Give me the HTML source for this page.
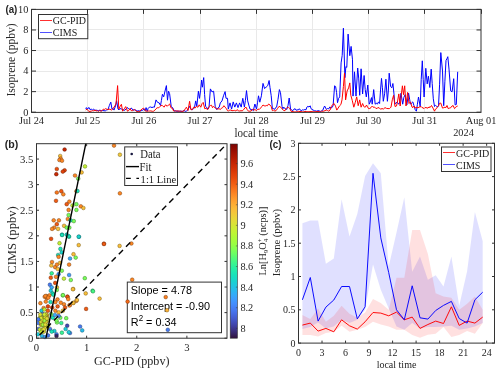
<!DOCTYPE html>
<html><head><meta charset="utf-8"><style>
html,body{margin:0;padding:0;background:#fff;width:500px;height:373px;overflow:hidden}
svg{display:block;will-change:transform}
</style></head><body>
<svg width="500" height="373" viewBox="0 0 500 373">
<rect width="500" height="373" fill="#fff"/>
<line x1="87.50" y1="9.4" x2="87.50" y2="112.2" stroke="#e9e9e9" stroke-width="1"/>
<line x1="143.50" y1="9.4" x2="143.50" y2="112.2" stroke="#e9e9e9" stroke-width="1"/>
<line x1="200.50" y1="9.4" x2="200.50" y2="112.2" stroke="#e9e9e9" stroke-width="1"/>
<line x1="256.50" y1="9.4" x2="256.50" y2="112.2" stroke="#e9e9e9" stroke-width="1"/>
<line x1="312.50" y1="9.4" x2="312.50" y2="112.2" stroke="#e9e9e9" stroke-width="1"/>
<line x1="368.50" y1="9.4" x2="368.50" y2="112.2" stroke="#e9e9e9" stroke-width="1"/>
<line x1="424.50" y1="9.4" x2="424.50" y2="112.2" stroke="#e9e9e9" stroke-width="1"/>
<line x1="31.5" y1="91.50" x2="481.0" y2="91.50" stroke="#e9e9e9" stroke-width="1"/>
<line x1="31.5" y1="71.50" x2="481.0" y2="71.50" stroke="#e9e9e9" stroke-width="1"/>
<line x1="31.5" y1="50.50" x2="481.0" y2="50.50" stroke="#e9e9e9" stroke-width="1"/>
<line x1="31.5" y1="29.50" x2="481.0" y2="29.50" stroke="#e9e9e9" stroke-width="1"/>
<polyline points="85.8,109.1 86.4,107.6 87.6,109.1 88.8,107.4 90.0,109.6 91.2,109.1 92.4,109.9 93.6,109.0 94.8,110.4 96.0,110.1 97.3,110.4 98.7,110.6 100.0,110.1 101.3,110.8 102.7,110.5 104.0,110.7 105.3,110.9 106.7,109.9 108.0,109.6 109.4,105.4 110.8,102.1 112.0,109.1 113.0,108.5 114.0,110.1 115.5,106.0 116.6,100.7 118.0,109.1 119.0,109.9 120.0,108.6 121.5,109.0 123.0,109.6 124.5,110.4 126.0,109.1 127.0,107.6 128.0,108.1 129.0,109.1 130.0,109.6 131.0,108.1 132.0,108.5 133.0,110.1 134.5,109.8 136.0,110.1 137.0,111.3 138.0,110.7 139.0,110.9 140.0,111.2 141.2,110.6 142.4,110.5 144.0,108.8 145.0,110.7 146.1,107.6 147.2,111.2 148.2,108.3 149.3,107.2 150.7,107.0 152.0,107.6 153.2,107.0 154.4,107.2 156.0,99.9 157.6,102.4 159.2,102.9 160.5,105.5 161.4,100.6 162.4,94.3 163.7,96.8 164.8,91.9 166.4,85.6 167.5,100.2 168.5,91.2 169.6,93.6 171.2,106.3 172.8,108.0 174.4,111.2 175.6,110.7 176.8,111.5 178.0,111.0 179.5,111.3 181.0,111.2 182.5,111.4 184.0,110.5 185.2,111.3 186.5,111.2 188.0,109.6 189.6,106.3 191.2,109.6 192.3,109.7 193.3,108.8 194.4,108.0 195.7,100.9 196.8,106.3 198.4,91.2 199.5,98.4 200.6,90.2 201.6,80.0 202.4,87.2 203.7,77.6 204.6,94.5 205.6,106.3 207.2,108.0 208.1,109.1 209.1,106.3 210.4,88.9 212.0,91.9 213.6,91.2 215.2,106.3 216.8,109.6 218.0,107.9 219.2,107.2 220.3,102.9 222.0,100.9 223.5,95.8 225.1,91.6 226.0,98.3 227.5,98.3 228.3,109.1 230.0,102.9 231.6,109.1 233.2,101.9 234.8,107.1 236.4,102.9 238.0,107.6 239.6,102.9 241.2,107.1 242.8,98.3 244.4,107.1 245.4,100.4 246.5,90.6 247.7,100.9 248.8,105.1 250.0,109.1 251.1,109.5 252.2,109.6 253.3,110.7 254.9,104.0 256.5,109.1 257.5,102.8 258.5,95.8 259.8,102.2 261.4,95.8 263.0,83.4 264.6,88.6 266.2,87.0 267.8,85.5 269.1,80.5 270.0,87.5 271.2,95.7 272.4,108.8 273.6,108.5 274.8,109.4 275.7,107.5 276.6,107.1 278.0,99.3 279.4,89.6 280.5,92.7 282.0,106.4 282.9,108.8 283.8,107.1 285.0,108.8 285.9,109.0 286.8,109.4 288.0,105.5 289.2,98.0 290.6,109.4 291.7,109.8 292.8,110.7 294.0,109.1 295.2,108.8 296.1,110.2 297.0,110.0 298.2,109.7 299.4,108.8 300.3,110.1 301.2,110.7 302.4,109.9 303.6,110.0 304.8,109.5 306.0,109.8 306.9,107.1 307.8,106.4 309.0,107.0 310.2,105.8 311.1,108.8 312.0,109.4 313.2,110.1 314.4,110.7 315.6,110.8 316.8,111.2 318.0,110.7 319.2,110.9 320.4,111.4 321.6,110.9 322.8,110.2 323.7,107.9 324.6,106.0 326.4,109.4 327.6,108.5 328.8,108.8 329.9,106.9 330.9,107.9 332.0,107.6 333.1,105.7 334.6,85.8 335.6,86.5 336.6,92.6 337.5,102.7 338.6,98.4 339.7,96.9 341.1,62.9 342.2,55.4 343.4,28.2 344.9,77.7 345.9,66.5 346.8,67.4 348.1,34.1 349.8,55.7 351.1,46.4 352.5,59.8 353.0,96.1 354.5,71.8 356.0,96.1 357.7,68.0 358.7,78.1 359.7,95.3 361.1,68.8 362.6,94.0 364.1,75.5 365.2,89.5 366.3,96.9 367.8,85.0 369.2,104.2 370.0,102.7 371.5,97.6 372.2,104.2 373.7,89.6 375.2,104.2 376.3,103.1 377.4,104.2 378.5,101.9 379.6,103.5 380.6,89.1 381.5,78.4 382.4,87.8 383.3,101.3 384.6,93.8 385.9,79.2 387.4,101.3 388.3,91.0 389.2,73.2 390.6,86.5 391.8,87.8 392.9,83.5 393.9,93.1 394.8,104.2 396.1,102.5 397.3,102.7 399.0,104.2 400.0,100.3 401.0,93.2 402.7,104.2 403.9,97.3 405.1,94.7 406.8,105.0 407.7,99.0 408.6,93.2 409.6,99.2 410.5,104.2 411.6,103.0 412.8,101.9 414.0,105.7 415.2,109.7 416.4,111.2 417.4,104.3 418.5,97.0 420.2,106.5 421.2,79.7 422.3,60.8 423.2,79.3 424.1,97.0 425.8,68.3 427.2,83.9 428.4,76.2 429.8,87.5 431.2,69.1 432.2,83.6 433.3,98.8 434.5,106.5 435.5,105.4 436.5,106.0 437.5,107.0 438.5,106.0 439.6,84.2 440.8,52.6 442.5,71.1 443.7,105.7 444.9,81.2 446.0,60.5 446.9,58.8 447.8,56.7 449.0,69.1 450.7,90.9 452.1,91.8 453.7,78.7 455.1,104.9 456.3,104.5 457.7,71.8" fill="none" stroke="#0000ff" stroke-width="1.0" stroke-linejoin="round"/>
<polyline points="85.8,110.1 87.0,109.1 88.8,111.4 90.0,111.4 91.3,111.1 92.5,110.7 93.8,110.8 95.0,110.1 96.2,110.9 97.3,110.7 98.5,111.4 99.7,110.4 100.8,111.2 102.0,110.7 103.2,109.2 104.5,109.4 105.7,108.6 106.8,109.2 108.0,109.6 109.0,109.2 110.0,109.1 111.5,110.2 113.0,108.6 114.8,106.0 116.0,104.0 117.6,85.6 118.8,109.1 120.1,106.4 121.4,104.3 122.6,111.2 123.6,109.9 124.7,108.2 125.7,106.6 127.5,111.2 128.8,110.4 130.0,108.6 131.2,110.6 132.3,110.7 133.5,110.0 134.7,109.6 135.8,110.7 137.0,111.7 138.5,111.5 140.0,111.2 141.1,109.6 142.1,109.3 143.2,108.0 144.4,109.0 145.6,111.2 146.9,111.1 148.3,111.0 149.6,111.0 150.9,110.9 152.3,111.3 153.6,111.2 154.8,110.3 156.0,108.8 157.2,107.7 158.4,108.0 159.7,106.7 161.1,105.5 162.4,105.5 164.0,107.2 165.6,104.8 167.2,106.3 168.4,105.0 169.6,104.0 171.2,108.0 172.4,108.3 173.6,111.0 174.7,110.9 175.8,111.2 176.9,110.7 178.0,111.2 179.2,111.1 180.5,111.1 181.8,111.4 183.0,111.2 184.1,110.8 185.3,108.7 186.4,107.2 188.0,110.5 189.6,101.3 190.9,109.6 192.2,109.7 193.6,107.2 195.2,108.0 196.5,106.3 197.9,107.3 199.2,104.8 200.8,107.2 202.0,103.7 203.2,102.4 204.8,108.8 206.0,108.1 207.2,109.6 208.3,108.9 209.3,106.3 210.4,105.5 211.5,105.2 212.5,107.7 213.6,106.3 215.2,108.0 216.5,108.8 217.9,108.9 219.2,108.8 220.4,109.5 221.5,108.1 222.7,107.6 223.9,105.7 225.1,107.1 226.3,108.6 227.5,110.7 228.6,110.9 229.8,110.1 230.9,110.1 232.0,110.7 233.2,110.6 234.5,110.4 235.8,111.0 237.0,109.6 238.3,110.7 239.7,111.0 241.0,110.7 242.2,110.9 243.5,109.8 244.8,108.0 246.0,107.1 247.2,109.6 248.5,111.2 249.8,111.2 251.1,111.0 252.4,109.3 253.7,110.0 255.0,109.6 256.5,110.6 258.0,109.1 259.3,109.4 260.6,108.1 261.8,106.5 263.0,105.0 264.1,105.7 265.1,106.1 266.2,105.5 267.4,105.8 268.6,104.0 270.0,105.0 271.2,106.6 272.4,110.7 273.6,110.2 274.8,111.0 276.0,110.7 277.5,108.6 279.0,106.4 280.5,106.9 282.0,108.8 283.5,110.4 285.0,110.7 286.2,108.5 287.4,107.3 288.6,107.6 289.8,108.5 291.0,111.2 292.0,111.5 293.0,111.7 294.2,111.9 295.3,111.9 296.5,111.6 297.7,111.5 298.8,111.3 300.0,111.6 301.2,111.5 302.5,111.8 303.8,111.8 305.0,111.5 306.2,111.6 307.5,111.5 308.8,111.7 310.0,111.7 311.1,111.5 312.3,111.6 313.4,111.6 314.6,111.6 315.7,111.5 316.9,111.5 318.0,111.6 319.2,111.6 320.4,111.8 321.6,111.1 322.8,111.4 323.9,111.0 325.0,110.7 326.2,110.0 327.5,110.5 328.8,111.2 330.0,110.1 331.4,106.5 332.7,104.5 334.1,103.5 335.5,106.1 336.8,110.1 338.2,108.0 339.7,105.7 340.9,104.5 342.0,99.9 343.4,86.5 344.5,73.2 345.6,99.9 347.1,91.0 348.6,87.9 349.8,82.9 350.8,95.3 352.3,100.6 353.8,107.2 355.2,102.7 356.7,96.9 358.2,105.7 359.7,99.9 361.1,107.2 362.6,103.5 363.6,106.0 364.5,107.2 365.5,107.0 366.5,105.0 367.5,106.8 368.5,108.6 369.8,108.5 371.0,107.6 372.0,106.2 373.0,107.2 374.5,107.0 376.0,108.6 377.5,108.0 379.0,107.6 380.5,109.2 382.0,108.6 383.5,109.0 385.0,107.6 386.5,108.4 388.0,108.6 389.5,108.6 391.0,107.1 392.3,99.8 393.6,95.3 395.0,106.5 396.5,106.0 397.6,101.0 398.8,93.9 400.2,106.0 401.3,94.8 402.4,85.8 403.5,94.7 404.7,85.8 406.0,106.0 407.6,92.4 409.0,103.5 410.5,101.9 412.0,107.1 413.0,107.5 414.0,106.0 415.0,108.0 416.0,107.6 417.0,107.2 418.0,108.1 419.0,106.8 420.0,107.1 421.0,106.4 422.0,107.6 423.0,107.8 424.0,108.6 425.0,107.6 426.0,107.6 427.0,107.9 428.0,108.1 429.0,106.8 430.0,107.6 431.5,105.5 433.0,108.1 434.5,111.2 435.5,109.1 436.5,108.6 437.5,106.8 438.5,106.0 439.6,103.2 440.8,103.1 442.5,108.1 443.8,107.7 445.0,107.1 446.0,107.6 447.0,105.5 448.2,108.6 449.5,108.1 450.8,107.7 452.0,106.0 453.2,105.6 454.5,108.6 455.4,107.8 456.3,106.5 457.7,106.0" fill="none" stroke="#ff0000" stroke-width="1.0" stroke-linejoin="round"/>
<rect x="31.5" y="9.4" width="449.5" height="103.0" fill="none" stroke="#333333" stroke-width="1"/>
<line x1="31.50" y1="9.4" x2="31.50" y2="13.9" stroke="#333333" stroke-width="1"/>
<line x1="87.50" y1="9.4" x2="87.50" y2="13.9" stroke="#333333" stroke-width="1"/>
<line x1="143.50" y1="9.4" x2="143.50" y2="13.9" stroke="#333333" stroke-width="1"/>
<line x1="200.50" y1="9.4" x2="200.50" y2="13.9" stroke="#333333" stroke-width="1"/>
<line x1="256.50" y1="9.4" x2="256.50" y2="13.9" stroke="#333333" stroke-width="1"/>
<line x1="312.50" y1="9.4" x2="312.50" y2="13.9" stroke="#333333" stroke-width="1"/>
<line x1="368.50" y1="9.4" x2="368.50" y2="13.9" stroke="#333333" stroke-width="1"/>
<line x1="424.50" y1="9.4" x2="424.50" y2="13.9" stroke="#333333" stroke-width="1"/>
<line x1="481.50" y1="9.4" x2="481.50" y2="13.9" stroke="#333333" stroke-width="1"/>
<line x1="31.5" y1="112.20" x2="36.0" y2="112.20" stroke="#333333" stroke-width="1"/>
<line x1="481.0" y1="112.20" x2="476.5" y2="112.20" stroke="#333333" stroke-width="1"/>
<text transform="translate(28.30,115.60) scale(1.0,1.0)" font-family="Liberation Serif" font-size="10.3" text-anchor="end" fill="#262626">0</text>
<line x1="31.5" y1="91.64" x2="36.0" y2="91.64" stroke="#333333" stroke-width="1"/>
<line x1="481.0" y1="91.64" x2="476.5" y2="91.64" stroke="#333333" stroke-width="1"/>
<text transform="translate(28.30,95.04) scale(1.0,1.0)" font-family="Liberation Serif" font-size="10.3" text-anchor="end" fill="#262626">2</text>
<line x1="31.5" y1="71.08" x2="36.0" y2="71.08" stroke="#333333" stroke-width="1"/>
<line x1="481.0" y1="71.08" x2="476.5" y2="71.08" stroke="#333333" stroke-width="1"/>
<text transform="translate(28.30,74.48) scale(1.0,1.0)" font-family="Liberation Serif" font-size="10.3" text-anchor="end" fill="#262626">4</text>
<line x1="31.5" y1="50.52" x2="36.0" y2="50.52" stroke="#333333" stroke-width="1"/>
<line x1="481.0" y1="50.52" x2="476.5" y2="50.52" stroke="#333333" stroke-width="1"/>
<text transform="translate(28.30,53.92) scale(1.0,1.0)" font-family="Liberation Serif" font-size="10.3" text-anchor="end" fill="#262626">6</text>
<line x1="31.5" y1="29.96" x2="36.0" y2="29.96" stroke="#333333" stroke-width="1"/>
<line x1="481.0" y1="29.96" x2="476.5" y2="29.96" stroke="#333333" stroke-width="1"/>
<text transform="translate(28.30,33.36) scale(1.0,1.0)" font-family="Liberation Serif" font-size="10.3" text-anchor="end" fill="#262626">8</text>
<line x1="31.5" y1="9.40" x2="36.0" y2="9.40" stroke="#333333" stroke-width="1"/>
<line x1="481.0" y1="9.40" x2="476.5" y2="9.40" stroke="#333333" stroke-width="1"/>
<text transform="translate(28.30,12.80) scale(1.0,1.0)" font-family="Liberation Serif" font-size="10.3" text-anchor="end" fill="#262626">10</text>
<text transform="translate(31.50,124.40) scale(1.0,1.0)" font-family="Liberation Serif" font-size="10.3" text-anchor="middle" fill="#262626">Jul 24</text>
<text transform="translate(87.69,124.40) scale(1.0,1.0)" font-family="Liberation Serif" font-size="10.3" text-anchor="middle" fill="#262626">Jul 25</text>
<text transform="translate(143.88,124.40) scale(1.0,1.0)" font-family="Liberation Serif" font-size="10.3" text-anchor="middle" fill="#262626">Jul 26</text>
<text transform="translate(200.06,124.40) scale(1.0,1.0)" font-family="Liberation Serif" font-size="10.3" text-anchor="middle" fill="#262626">Jul 27</text>
<text transform="translate(256.25,124.40) scale(1.0,1.0)" font-family="Liberation Serif" font-size="10.3" text-anchor="middle" fill="#262626">Jul 28</text>
<text transform="translate(312.44,124.40) scale(1.0,1.0)" font-family="Liberation Serif" font-size="10.3" text-anchor="middle" fill="#262626">Jul 29</text>
<text transform="translate(368.62,124.40) scale(1.0,1.0)" font-family="Liberation Serif" font-size="10.3" text-anchor="middle" fill="#262626">Jul 30</text>
<text transform="translate(424.81,124.40) scale(1.0,1.0)" font-family="Liberation Serif" font-size="10.3" text-anchor="middle" fill="#262626">Jul 31</text>
<text transform="translate(481.00,124.40) scale(1.0,1.0)" font-family="Liberation Serif" font-size="10.3" text-anchor="middle" fill="#262626">Aug 01</text>
<text transform="translate(473.80,136.20) scale(1.0,1.0)" font-family="Liberation Serif" font-size="10.3" text-anchor="end" fill="#262626">2024</text>
<text transform="translate(256.30,136.80) scale(1.0,1.08)" font-family="Liberation Serif" font-size="11" text-anchor="middle" fill="#262626">local time</text>
<text transform="translate(15.20,59.90) scale(1,0.96) rotate(-90)" font-family="Liberation Serif" font-size="12" text-anchor="middle" fill="#262626">Isoprene (ppbv)</text>
<text transform="translate(5.40,12.80) scale(0.92,1.0)" font-family="Liberation Sans" font-size="10.6" text-anchor="start" fill="#262626" font-weight="bold">(a)</text>
<rect x="38.5" y="14.5" width="49.3" height="24.2" fill="#fff" stroke="#333333" stroke-width="1"/>
<line x1="40" y1="20.5" x2="52" y2="20.5" stroke="#ff3030" stroke-width="1"/>
<line x1="40" y1="32.5" x2="52" y2="32.5" stroke="#5050ff" stroke-width="1"/>
<text transform="translate(52.80,23.90) scale(1.0,1.08)" font-family="Liberation Serif" font-size="10" text-anchor="start" fill="#1a1a1a">GC-PID</text>
<text transform="translate(52.80,35.80) scale(1.0,1.08)" font-family="Liberation Serif" font-size="10" text-anchor="start" fill="#1a1a1a">CIMS</text>
<circle cx="75.0" cy="175.5" r="1.85" fill="#fc8725" stroke="#713c10" stroke-width="0.45"/>
<circle cx="78.2" cy="178.7" r="1.85" fill="#79fe59" stroke="#367228" stroke-width="0.45"/>
<circle cx="69.1" cy="264.6" r="1.85" fill="#fc8725" stroke="#713c10" stroke-width="0.45"/>
<circle cx="54.2" cy="227.6" r="1.85" fill="#fc8725" stroke="#713c10" stroke-width="0.45"/>
<circle cx="51.7" cy="273.3" r="1.85" fill="#35f394" stroke="#176d42" stroke-width="0.45"/>
<circle cx="75.7" cy="257.6" r="1.85" fill="#79fe59" stroke="#367228" stroke-width="0.45"/>
<circle cx="45.5" cy="325.2" r="1.85" fill="#cbed34" stroke="#5b6a17" stroke-width="0.45"/>
<circle cx="56.8" cy="192.5" r="1.85" fill="#f9781e" stroke="#70360d" stroke-width="0.45"/>
<circle cx="61.8" cy="252.4" r="1.85" fill="#19d5cd" stroke="#0b5f5c" stroke-width="0.45"/>
<circle cx="58.7" cy="312.3" r="1.85" fill="#f8be39" stroke="#6f5519" stroke-width="0.45"/>
<circle cx="56.9" cy="287.3" r="1.85" fill="#f6c33a" stroke="#6e571a" stroke-width="0.45"/>
<circle cx="41.2" cy="325.3" r="1.85" fill="#cbed34" stroke="#5b6a17" stroke-width="0.45"/>
<circle cx="46.4" cy="316.1" r="1.85" fill="#e1dd37" stroke="#656318" stroke-width="0.45"/>
<circle cx="46.7" cy="298.0" r="1.85" fill="#fc8725" stroke="#713c10" stroke-width="0.45"/>
<circle cx="40.7" cy="323.2" r="1.85" fill="#ebd339" stroke="#695e19" stroke-width="0.45"/>
<circle cx="79.0" cy="236.8" r="1.85" fill="#1ecbda" stroke="#0d5b62" stroke-width="0.45"/>
<circle cx="46.9" cy="315.0" r="1.85" fill="#fc8725" stroke="#713c10" stroke-width="0.45"/>
<circle cx="52.0" cy="262.0" r="1.85" fill="#fc8725" stroke="#713c10" stroke-width="0.45"/>
<circle cx="76.4" cy="300.8" r="1.85" fill="#fc8725" stroke="#713c10" stroke-width="0.45"/>
<circle cx="50.0" cy="329.0" r="1.85" fill="#477bf2" stroke="#1f376c" stroke-width="0.45"/>
<circle cx="47.0" cy="327.0" r="1.85" fill="#b1f936" stroke="#4f7018" stroke-width="0.45"/>
<circle cx="60.3" cy="317.7" r="1.85" fill="#79fe59" stroke="#367228" stroke-width="0.45"/>
<circle cx="57.5" cy="299.4" r="1.85" fill="#fc8725" stroke="#713c10" stroke-width="0.45"/>
<circle cx="43.3" cy="323.9" r="1.85" fill="#d7e535" stroke="#606717" stroke-width="0.45"/>
<circle cx="70.8" cy="280.0" r="1.85" fill="#79fe59" stroke="#367228" stroke-width="0.45"/>
<circle cx="43.7" cy="324.1" r="1.85" fill="#e1dd37" stroke="#656318" stroke-width="0.45"/>
<circle cx="52.8" cy="317.7" r="1.85" fill="#19e3b9" stroke="#0b6653" stroke-width="0.45"/>
<circle cx="38.3" cy="323.0" r="1.85" fill="#477bf2" stroke="#1f376c" stroke-width="0.45"/>
<circle cx="46.5" cy="296.0" r="1.85" fill="#fc8725" stroke="#713c10" stroke-width="0.45"/>
<circle cx="64.6" cy="149.5" r="1.85" fill="#c52603" stroke="#581101" stroke-width="0.45"/>
<circle cx="64.6" cy="170.3" r="1.85" fill="#e2430a" stroke="#651e04" stroke-width="0.45"/>
<circle cx="41.5" cy="331.1" r="1.85" fill="#e1dd37" stroke="#656318" stroke-width="0.45"/>
<circle cx="61.9" cy="332.7" r="1.85" fill="#35f394" stroke="#176d42" stroke-width="0.45"/>
<circle cx="42.4" cy="315.6" r="1.85" fill="#f2c93a" stroke="#6c5a1a" stroke-width="0.45"/>
<circle cx="50.8" cy="277.7" r="1.85" fill="#f05b12" stroke="#6c2808" stroke-width="0.45"/>
<circle cx="80.1" cy="326.5" r="1.85" fill="#477bf2" stroke="#1f376c" stroke-width="0.45"/>
<circle cx="69.3" cy="201.6" r="1.85" fill="#fc8725" stroke="#713c10" stroke-width="0.45"/>
<circle cx="56.8" cy="224.2" r="1.85" fill="#f05b12" stroke="#6c2808" stroke-width="0.45"/>
<circle cx="43.5" cy="324.2" r="1.85" fill="#e1dd37" stroke="#656318" stroke-width="0.45"/>
<circle cx="167.8" cy="329.8" r="1.85" fill="#477bf2" stroke="#1f376c" stroke-width="0.45"/>
<circle cx="64.0" cy="304.3" r="1.85" fill="#fc8725" stroke="#713c10" stroke-width="0.45"/>
<circle cx="103.9" cy="243.7" r="1.85" fill="#f05b12" stroke="#6c2808" stroke-width="0.45"/>
<circle cx="45.1" cy="321.6" r="1.85" fill="#d7e535" stroke="#606717" stroke-width="0.45"/>
<circle cx="67.5" cy="296.7" r="1.85" fill="#f05b12" stroke="#6c2808" stroke-width="0.45"/>
<circle cx="59.5" cy="243.2" r="1.85" fill="#c3f134" stroke="#576c17" stroke-width="0.45"/>
<circle cx="82.2" cy="330.4" r="1.85" fill="#28bceb" stroke="#125469" stroke-width="0.45"/>
<circle cx="67.2" cy="325.7" r="1.85" fill="#424bb5" stroke="#1d2151" stroke-width="0.45"/>
<circle cx="48.0" cy="335.4" r="1.85" fill="#477bf2" stroke="#1f376c" stroke-width="0.45"/>
<circle cx="50.8" cy="290.7" r="1.85" fill="#1ecbda" stroke="#0d5b62" stroke-width="0.45"/>
<circle cx="46.7" cy="317.2" r="1.85" fill="#cbed34" stroke="#5b6a17" stroke-width="0.45"/>
<circle cx="67.8" cy="219.0" r="1.85" fill="#fc8725" stroke="#713c10" stroke-width="0.45"/>
<circle cx="70.0" cy="305.0" r="1.85" fill="#fc8725" stroke="#713c10" stroke-width="0.45"/>
<circle cx="38.3" cy="329.0" r="1.85" fill="#4669e0" stroke="#1f2f64" stroke-width="0.45"/>
<circle cx="72.5" cy="205.5" r="1.85" fill="#c3f134" stroke="#576c17" stroke-width="0.45"/>
<circle cx="43.6" cy="329.2" r="1.85" fill="#cbed34" stroke="#5b6a17" stroke-width="0.45"/>
<circle cx="56.5" cy="334.3" r="1.85" fill="#477bf2" stroke="#1f376c" stroke-width="0.45"/>
<circle cx="114.0" cy="145.6" r="1.85" fill="#fc8725" stroke="#713c10" stroke-width="0.45"/>
<circle cx="51.2" cy="314.0" r="1.85" fill="#79fe59" stroke="#367228" stroke-width="0.45"/>
<circle cx="56.5" cy="336.0" r="1.85" fill="#36215f" stroke="#180e2a" stroke-width="0.45"/>
<circle cx="43.6" cy="308.0" r="1.85" fill="#fc8725" stroke="#713c10" stroke-width="0.45"/>
<circle cx="44.7" cy="296.8" r="1.85" fill="#fc8725" stroke="#713c10" stroke-width="0.45"/>
<circle cx="49.9" cy="284.7" r="1.85" fill="#477bf2" stroke="#1f376c" stroke-width="0.45"/>
<circle cx="42.0" cy="336.0" r="1.85" fill="#28bceb" stroke="#125469" stroke-width="0.45"/>
<circle cx="76.9" cy="300.0" r="1.85" fill="#f8be39" stroke="#6f5519" stroke-width="0.45"/>
<circle cx="49.4" cy="295.4" r="1.85" fill="#fc8725" stroke="#713c10" stroke-width="0.45"/>
<circle cx="45.4" cy="296.0" r="1.85" fill="#fc8725" stroke="#713c10" stroke-width="0.45"/>
<circle cx="65.6" cy="329.0" r="1.85" fill="#1ecbda" stroke="#0d5b62" stroke-width="0.45"/>
<circle cx="42.5" cy="314.3" r="1.85" fill="#e1dd37" stroke="#656318" stroke-width="0.45"/>
<circle cx="55.2" cy="267.2" r="1.85" fill="#fc8725" stroke="#713c10" stroke-width="0.45"/>
<circle cx="167.0" cy="310.2" r="1.85" fill="#f8be39" stroke="#6f5519" stroke-width="0.45"/>
<circle cx="80.8" cy="206.3" r="1.85" fill="#fc8725" stroke="#713c10" stroke-width="0.45"/>
<circle cx="64.1" cy="225.8" r="1.85" fill="#f8be39" stroke="#6f5519" stroke-width="0.45"/>
<circle cx="68.6" cy="209.9" r="1.85" fill="#fc8725" stroke="#713c10" stroke-width="0.45"/>
<circle cx="61.3" cy="323.0" r="1.85" fill="#35f394" stroke="#176d42" stroke-width="0.45"/>
<circle cx="83.4" cy="208.0" r="1.85" fill="#f8be39" stroke="#6f5519" stroke-width="0.45"/>
<circle cx="43.2" cy="331.2" r="1.85" fill="#f2c93a" stroke="#6c5a1a" stroke-width="0.45"/>
<circle cx="69.1" cy="236.7" r="1.85" fill="#19e3b9" stroke="#0b6653" stroke-width="0.45"/>
<circle cx="99.6" cy="298.6" r="1.85" fill="#f8be39" stroke="#6f5519" stroke-width="0.45"/>
<circle cx="40.4" cy="317.8" r="1.85" fill="#f2c93a" stroke="#6c5a1a" stroke-width="0.45"/>
<circle cx="58.1" cy="255.0" r="1.85" fill="#19e3b9" stroke="#0b6653" stroke-width="0.45"/>
<circle cx="66.7" cy="227.6" r="1.85" fill="#79fe59" stroke="#367228" stroke-width="0.45"/>
<circle cx="68.6" cy="215.1" r="1.85" fill="#79fe59" stroke="#367228" stroke-width="0.45"/>
<circle cx="41.4" cy="316.8" r="1.85" fill="#e1dd37" stroke="#656318" stroke-width="0.45"/>
<circle cx="61.8" cy="270.7" r="1.85" fill="#79fe59" stroke="#367228" stroke-width="0.45"/>
<circle cx="45.8" cy="301.6" r="1.85" fill="#fc8725" stroke="#713c10" stroke-width="0.45"/>
<circle cx="62.0" cy="234.7" r="1.85" fill="#19d5cd" stroke="#0b5f5c" stroke-width="0.45"/>
<circle cx="73.2" cy="289.0" r="1.85" fill="#f8be39" stroke="#6f5519" stroke-width="0.45"/>
<circle cx="51.3" cy="265.5" r="1.85" fill="#f8be39" stroke="#6f5519" stroke-width="0.45"/>
<circle cx="76.4" cy="204.2" r="1.85" fill="#79fe59" stroke="#367228" stroke-width="0.45"/>
<circle cx="44.0" cy="324.3" r="1.85" fill="#e1dd37" stroke="#656318" stroke-width="0.45"/>
<circle cx="41.4" cy="323.2" r="1.85" fill="#f2c93a" stroke="#6c5a1a" stroke-width="0.45"/>
<circle cx="52.6" cy="293.4" r="1.85" fill="#19e3b9" stroke="#0b6653" stroke-width="0.45"/>
<circle cx="52.1" cy="228.9" r="1.85" fill="#fc8725" stroke="#713c10" stroke-width="0.45"/>
<circle cx="51.1" cy="238.8" r="1.85" fill="#ea4e0d" stroke="#692305" stroke-width="0.45"/>
<circle cx="60.2" cy="156.0" r="1.85" fill="#f8be39" stroke="#6f5519" stroke-width="0.45"/>
<circle cx="54.9" cy="315.0" r="1.85" fill="#37a8fa" stroke="#184b70" stroke-width="0.45"/>
<circle cx="41.4" cy="323.2" r="1.85" fill="#f2c93a" stroke="#6c5a1a" stroke-width="0.45"/>
<circle cx="50.5" cy="302.0" r="1.85" fill="#19e3b9" stroke="#0b6653" stroke-width="0.45"/>
<circle cx="39.8" cy="317.8" r="1.85" fill="#d7e535" stroke="#606717" stroke-width="0.45"/>
<circle cx="62.9" cy="310.7" r="1.85" fill="#f6c33a" stroke="#6e571a" stroke-width="0.45"/>
<circle cx="119.9" cy="154.7" r="1.85" fill="#f2c93a" stroke="#6c5a1a" stroke-width="0.45"/>
<circle cx="39.8" cy="329.6" r="1.85" fill="#cbed34" stroke="#5b6a17" stroke-width="0.45"/>
<circle cx="55.2" cy="282.9" r="1.85" fill="#ea4e0d" stroke="#692305" stroke-width="0.45"/>
<circle cx="60.7" cy="158.6" r="1.85" fill="#fc8725" stroke="#713c10" stroke-width="0.45"/>
<circle cx="45.0" cy="337.0" r="1.85" fill="#3e9bfe" stroke="#1b4572" stroke-width="0.45"/>
<circle cx="86.1" cy="308.9" r="1.85" fill="#f05b12" stroke="#6c2808" stroke-width="0.45"/>
<circle cx="46.5" cy="321.2" r="1.85" fill="#ebd339" stroke="#695e19" stroke-width="0.45"/>
<circle cx="58.1" cy="228.9" r="1.85" fill="#f6c33a" stroke="#6e571a" stroke-width="0.45"/>
<circle cx="72.9" cy="289.2" r="1.85" fill="#f8be39" stroke="#6f5519" stroke-width="0.45"/>
<circle cx="67.4" cy="296.8" r="1.85" fill="#ea4e0d" stroke="#692305" stroke-width="0.45"/>
<circle cx="41.9" cy="324.8" r="1.85" fill="#ebd339" stroke="#695e19" stroke-width="0.45"/>
<circle cx="48.2" cy="325.8" r="1.85" fill="#cbed34" stroke="#5b6a17" stroke-width="0.45"/>
<circle cx="81.6" cy="172.4" r="1.85" fill="#f8be39" stroke="#6f5519" stroke-width="0.45"/>
<circle cx="45.0" cy="328.0" r="1.85" fill="#ebd339" stroke="#695e19" stroke-width="0.45"/>
<circle cx="54.4" cy="331.0" r="1.85" fill="#1ecbda" stroke="#0d5b62" stroke-width="0.45"/>
<circle cx="70.0" cy="258.5" r="1.85" fill="#37a8fa" stroke="#184b70" stroke-width="0.45"/>
<circle cx="62.1" cy="235.0" r="1.85" fill="#19e3b9" stroke="#0b6653" stroke-width="0.45"/>
<circle cx="66.2" cy="318.2" r="1.85" fill="#79fe59" stroke="#367228" stroke-width="0.45"/>
<circle cx="46.0" cy="319.7" r="1.85" fill="#e1dd37" stroke="#656318" stroke-width="0.45"/>
<circle cx="40.8" cy="321.6" r="1.85" fill="#e1dd37" stroke="#656318" stroke-width="0.45"/>
<circle cx="57.6" cy="306.4" r="1.85" fill="#f05b12" stroke="#6c2808" stroke-width="0.45"/>
<circle cx="58.6" cy="274.2" r="1.85" fill="#3e9bfe" stroke="#1b4572" stroke-width="0.45"/>
<circle cx="60.4" cy="248.9" r="1.85" fill="#19e3b9" stroke="#0b6653" stroke-width="0.45"/>
<circle cx="69.3" cy="227.6" r="1.85" fill="#79fe59" stroke="#367228" stroke-width="0.45"/>
<circle cx="41.7" cy="318.6" r="1.85" fill="#cbed34" stroke="#5b6a17" stroke-width="0.45"/>
<circle cx="78.7" cy="245.1" r="1.85" fill="#f8be39" stroke="#6f5519" stroke-width="0.45"/>
<circle cx="56.9" cy="264.6" r="1.85" fill="#fc8725" stroke="#713c10" stroke-width="0.45"/>
<circle cx="51.7" cy="331.6" r="1.85" fill="#19e3b9" stroke="#0b6653" stroke-width="0.45"/>
<circle cx="76.4" cy="209.9" r="1.85" fill="#79fe59" stroke="#367228" stroke-width="0.45"/>
<circle cx="47.9" cy="306.4" r="1.85" fill="#e2430a" stroke="#651e04" stroke-width="0.45"/>
<circle cx="76.4" cy="191.2" r="1.85" fill="#fc8725" stroke="#713c10" stroke-width="0.45"/>
<circle cx="104.0" cy="244.0" r="1.85" fill="#f05b12" stroke="#6c2808" stroke-width="0.45"/>
<circle cx="65.1" cy="307.5" r="1.85" fill="#f05b12" stroke="#6c2808" stroke-width="0.45"/>
<circle cx="92.6" cy="290.7" r="1.85" fill="#35f394" stroke="#176d42" stroke-width="0.45"/>
<circle cx="45.2" cy="316.3" r="1.85" fill="#cbed34" stroke="#5b6a17" stroke-width="0.45"/>
<circle cx="59.4" cy="160.0" r="1.85" fill="#fc8725" stroke="#713c10" stroke-width="0.45"/>
<circle cx="51.7" cy="287.3" r="1.85" fill="#37a8fa" stroke="#184b70" stroke-width="0.45"/>
<circle cx="62.8" cy="171.6" r="1.85" fill="#e2430a" stroke="#651e04" stroke-width="0.45"/>
<circle cx="43.0" cy="324.7" r="1.85" fill="#a4fc3c" stroke="#49711b" stroke-width="0.45"/>
<circle cx="57.0" cy="322.5" r="1.85" fill="#79fe59" stroke="#367228" stroke-width="0.45"/>
<circle cx="62.8" cy="295.4" r="1.85" fill="#79fe59" stroke="#367228" stroke-width="0.45"/>
<circle cx="77.5" cy="191.0" r="1.85" fill="#19e3b9" stroke="#0b6653" stroke-width="0.45"/>
<circle cx="42.4" cy="329.9" r="1.85" fill="#e1dd37" stroke="#656318" stroke-width="0.45"/>
<circle cx="46.5" cy="321.5" r="1.85" fill="#e1dd37" stroke="#656318" stroke-width="0.45"/>
<circle cx="52.2" cy="307.5" r="1.85" fill="#e2430a" stroke="#651e04" stroke-width="0.45"/>
<circle cx="55.4" cy="310.7" r="1.85" fill="#fc8725" stroke="#713c10" stroke-width="0.45"/>
<circle cx="69.4" cy="305.4" r="1.85" fill="#fc8725" stroke="#713c10" stroke-width="0.45"/>
<circle cx="48.2" cy="297.7" r="1.85" fill="#fc8725" stroke="#713c10" stroke-width="0.45"/>
<circle cx="55.4" cy="302.1" r="1.85" fill="#fc8725" stroke="#713c10" stroke-width="0.45"/>
<circle cx="56.8" cy="290.0" r="1.85" fill="#79fe59" stroke="#367228" stroke-width="0.45"/>
<circle cx="37.8" cy="334.3" r="1.85" fill="#1ecbda" stroke="#0d5b62" stroke-width="0.45"/>
<circle cx="53.7" cy="220.3" r="1.85" fill="#fc8725" stroke="#713c10" stroke-width="0.45"/>
<circle cx="46.6" cy="318.9" r="1.85" fill="#d7e535" stroke="#606717" stroke-width="0.45"/>
<circle cx="53.4" cy="294.7" r="1.85" fill="#19e3b9" stroke="#0b6653" stroke-width="0.45"/>
<circle cx="41.5" cy="310.7" r="1.85" fill="#1ecbda" stroke="#0d5b62" stroke-width="0.45"/>
<circle cx="63.9" cy="278.6" r="1.85" fill="#c3f134" stroke="#576c17" stroke-width="0.45"/>
<circle cx="56.0" cy="200.8" r="1.85" fill="#f05b12" stroke="#6c2808" stroke-width="0.45"/>
<circle cx="165.7" cy="297.1" r="1.85" fill="#fc8725" stroke="#713c10" stroke-width="0.45"/>
<circle cx="56.8" cy="169.0" r="1.85" fill="#ea4e0d" stroke="#692305" stroke-width="0.45"/>
<circle cx="68.2" cy="299.1" r="1.85" fill="#fc8725" stroke="#713c10" stroke-width="0.45"/>
<circle cx="43.9" cy="331.6" r="1.85" fill="#e1dd37" stroke="#656318" stroke-width="0.45"/>
<circle cx="41.4" cy="331.9" r="1.85" fill="#cbed34" stroke="#5b6a17" stroke-width="0.45"/>
<circle cx="56.0" cy="276.8" r="1.85" fill="#fc8725" stroke="#713c10" stroke-width="0.45"/>
<circle cx="42.6" cy="314.0" r="1.85" fill="#477bf2" stroke="#1f376c" stroke-width="0.45"/>
<circle cx="56.3" cy="174.2" r="1.85" fill="#ca2a04" stroke="#5a1201" stroke-width="0.45"/>
<circle cx="119.6" cy="245.9" r="1.85" fill="#f8be39" stroke="#6f5519" stroke-width="0.45"/>
<circle cx="60.8" cy="302.7" r="1.85" fill="#fc8725" stroke="#713c10" stroke-width="0.45"/>
<circle cx="70.0" cy="333.0" r="1.85" fill="#477bf2" stroke="#1f376c" stroke-width="0.45"/>
<circle cx="68.8" cy="332.2" r="1.85" fill="#1ecbda" stroke="#0d5b62" stroke-width="0.45"/>
<circle cx="40.4" cy="303.2" r="1.85" fill="#fc8725" stroke="#713c10" stroke-width="0.45"/>
<circle cx="46.0" cy="314.2" r="1.85" fill="#e1dd37" stroke="#656318" stroke-width="0.45"/>
<circle cx="60.0" cy="262.9" r="1.85" fill="#f8be39" stroke="#6f5519" stroke-width="0.45"/>
<circle cx="58.9" cy="220.3" r="1.85" fill="#fc8725" stroke="#713c10" stroke-width="0.45"/>
<circle cx="45.4" cy="315.8" r="1.85" fill="#e1dd37" stroke="#656318" stroke-width="0.45"/>
<circle cx="66.7" cy="204.2" r="1.85" fill="#f05b12" stroke="#6c2808" stroke-width="0.45"/>
<circle cx="70.6" cy="220.3" r="1.85" fill="#19e3b9" stroke="#0b6653" stroke-width="0.45"/>
<circle cx="132.2" cy="279.7" r="1.85" fill="#fc8725" stroke="#713c10" stroke-width="0.45"/>
<circle cx="63.0" cy="295.1" r="1.85" fill="#79fe59" stroke="#367228" stroke-width="0.45"/>
<circle cx="42.7" cy="319.3" r="1.85" fill="#d7e535" stroke="#606717" stroke-width="0.45"/>
<circle cx="45.6" cy="322.2" r="1.85" fill="#ebd339" stroke="#695e19" stroke-width="0.45"/>
<circle cx="68.6" cy="236.2" r="1.85" fill="#19e3b9" stroke="#0b6653" stroke-width="0.45"/>
<circle cx="85.0" cy="166.4" r="1.85" fill="#c3f134" stroke="#576c17" stroke-width="0.45"/>
<circle cx="119.9" cy="193.3" r="1.85" fill="#fc8725" stroke="#713c10" stroke-width="0.45"/>
<circle cx="45.1" cy="317.4" r="1.85" fill="#e1dd37" stroke="#656318" stroke-width="0.45"/>
<circle cx="57.8" cy="269.0" r="1.85" fill="#f8be39" stroke="#6f5519" stroke-width="0.45"/>
<circle cx="44.2" cy="320.4" r="1.85" fill="#a4fc3c" stroke="#49711b" stroke-width="0.45"/>
<circle cx="40.3" cy="314.6" r="1.85" fill="#e1dd37" stroke="#656318" stroke-width="0.45"/>
<circle cx="58.7" cy="316.0" r="1.85" fill="#477bf2" stroke="#1f376c" stroke-width="0.45"/>
<circle cx="62.0" cy="160.7" r="1.85" fill="#fc8725" stroke="#713c10" stroke-width="0.45"/>
<circle cx="58.6" cy="256.8" r="1.85" fill="#fc8725" stroke="#713c10" stroke-width="0.45"/>
<circle cx="78.7" cy="236.7" r="1.85" fill="#19d5cd" stroke="#0b5f5c" stroke-width="0.45"/>
<circle cx="41.8" cy="319.3" r="1.85" fill="#d7e535" stroke="#606717" stroke-width="0.45"/>
<circle cx="63.3" cy="194.3" r="1.85" fill="#fc8725" stroke="#713c10" stroke-width="0.45"/>
<circle cx="56.5" cy="320.4" r="1.85" fill="#79fe59" stroke="#367228" stroke-width="0.45"/>
<circle cx="93.0" cy="291.3" r="1.85" fill="#46f884" stroke="#1f6f3b" stroke-width="0.45"/>
<circle cx="73.6" cy="302.8" r="1.85" fill="#f8be39" stroke="#6f5519" stroke-width="0.45"/>
<circle cx="73.2" cy="302.9" r="1.85" fill="#f8be39" stroke="#6f5519" stroke-width="0.45"/>
<circle cx="69.1" cy="275.0" r="1.85" fill="#3e9bfe" stroke="#1b4572" stroke-width="0.45"/>
<circle cx="73.5" cy="254.2" r="1.85" fill="#f8be39" stroke="#6f5519" stroke-width="0.45"/>
<circle cx="73.8" cy="221.1" r="1.85" fill="#79fe59" stroke="#367228" stroke-width="0.45"/>
<circle cx="61.3" cy="191.2" r="1.85" fill="#f05b12" stroke="#6c2808" stroke-width="0.45"/>
<circle cx="44.5" cy="309.5" r="1.85" fill="#c3f134" stroke="#576c17" stroke-width="0.45"/>
<circle cx="66.7" cy="234.7" r="1.85" fill="#19d5cd" stroke="#0b5f5c" stroke-width="0.45"/>
<circle cx="85.7" cy="293.4" r="1.85" fill="#f8be39" stroke="#6f5519" stroke-width="0.45"/>
<circle cx="44.3" cy="314.5" r="1.85" fill="#cbed34" stroke="#5b6a17" stroke-width="0.45"/>
<circle cx="84.8" cy="278.2" r="1.85" fill="#79fe59" stroke="#367228" stroke-width="0.45"/>
<circle cx="131.4" cy="243.5" r="1.85" fill="#fc8725" stroke="#713c10" stroke-width="0.45"/>
<circle cx="41.0" cy="318.0" r="1.85" fill="#d7e535" stroke="#606717" stroke-width="0.45"/>
<circle cx="45.3" cy="324.7" r="1.85" fill="#e1dd37" stroke="#656318" stroke-width="0.45"/>
<circle cx="46.9" cy="318.5" r="1.85" fill="#e1dd37" stroke="#656318" stroke-width="0.45"/>
<circle cx="47.9" cy="310.7" r="1.85" fill="#f05b12" stroke="#6c2808" stroke-width="0.45"/>
<circle cx="38.3" cy="319.3" r="1.85" fill="#477bf2" stroke="#1f376c" stroke-width="0.45"/>
<circle cx="43.7" cy="329.4" r="1.85" fill="#e1dd37" stroke="#656318" stroke-width="0.45"/>
<line x1="45.94" y1="338.20" x2="85.79" y2="143.70" stroke="#000" stroke-width="1.4"/>
<line x1="36.50" y1="338.20" x2="227.00" y2="143.70" stroke="#000" stroke-width="1.4" stroke-dasharray="6,4.3" stroke-dashoffset="6"/>
<rect x="36.5" y="143.7" width="190.5" height="194.5" fill="none" stroke="#333333" stroke-width="1"/>
<line x1="36.50" y1="338.2" x2="36.50" y2="335.7" stroke="#333333" stroke-width="1"/>
<line x1="36.50" y1="143.7" x2="36.50" y2="146.2" stroke="#333333" stroke-width="1"/>
<text transform="translate(36.50,351.00) scale(1.0,1.0)" font-family="Liberation Serif" font-size="10.7" text-anchor="middle" fill="#262626">0</text>
<line x1="86.63" y1="338.2" x2="86.63" y2="335.7" stroke="#333333" stroke-width="1"/>
<line x1="86.63" y1="143.7" x2="86.63" y2="146.2" stroke="#333333" stroke-width="1"/>
<text transform="translate(86.63,351.00) scale(1.0,1.0)" font-family="Liberation Serif" font-size="10.7" text-anchor="middle" fill="#262626">1</text>
<line x1="136.76" y1="338.2" x2="136.76" y2="335.7" stroke="#333333" stroke-width="1"/>
<line x1="136.76" y1="143.7" x2="136.76" y2="146.2" stroke="#333333" stroke-width="1"/>
<text transform="translate(136.76,351.00) scale(1.0,1.0)" font-family="Liberation Serif" font-size="10.7" text-anchor="middle" fill="#262626">2</text>
<line x1="186.89" y1="338.2" x2="186.89" y2="335.7" stroke="#333333" stroke-width="1"/>
<line x1="186.89" y1="143.7" x2="186.89" y2="146.2" stroke="#333333" stroke-width="1"/>
<text transform="translate(186.89,351.00) scale(1.0,1.0)" font-family="Liberation Serif" font-size="10.7" text-anchor="middle" fill="#262626">3</text>
<line x1="36.5" y1="338.20" x2="39.0" y2="338.20" stroke="#333333" stroke-width="1"/>
<line x1="227.0" y1="338.20" x2="224.5" y2="338.20" stroke="#333333" stroke-width="1"/>
<text transform="translate(33.30,341.80) scale(1.0,1.0)" font-family="Liberation Serif" font-size="10.7" text-anchor="end" fill="#262626">0</text>
<line x1="36.5" y1="312.61" x2="39.0" y2="312.61" stroke="#333333" stroke-width="1"/>
<line x1="227.0" y1="312.61" x2="224.5" y2="312.61" stroke="#333333" stroke-width="1"/>
<text transform="translate(33.30,316.21) scale(1.0,1.0)" font-family="Liberation Serif" font-size="10.7" text-anchor="end" fill="#262626">0.5</text>
<line x1="36.5" y1="287.02" x2="39.0" y2="287.02" stroke="#333333" stroke-width="1"/>
<line x1="227.0" y1="287.02" x2="224.5" y2="287.02" stroke="#333333" stroke-width="1"/>
<text transform="translate(33.30,290.62) scale(1.0,1.0)" font-family="Liberation Serif" font-size="10.7" text-anchor="end" fill="#262626">1</text>
<line x1="36.5" y1="261.42" x2="39.0" y2="261.42" stroke="#333333" stroke-width="1"/>
<line x1="227.0" y1="261.42" x2="224.5" y2="261.42" stroke="#333333" stroke-width="1"/>
<text transform="translate(33.30,265.02) scale(1.0,1.0)" font-family="Liberation Serif" font-size="10.7" text-anchor="end" fill="#262626">1.5</text>
<line x1="36.5" y1="235.83" x2="39.0" y2="235.83" stroke="#333333" stroke-width="1"/>
<line x1="227.0" y1="235.83" x2="224.5" y2="235.83" stroke="#333333" stroke-width="1"/>
<text transform="translate(33.30,239.43) scale(1.0,1.0)" font-family="Liberation Serif" font-size="10.7" text-anchor="end" fill="#262626">2</text>
<line x1="36.5" y1="210.24" x2="39.0" y2="210.24" stroke="#333333" stroke-width="1"/>
<line x1="227.0" y1="210.24" x2="224.5" y2="210.24" stroke="#333333" stroke-width="1"/>
<text transform="translate(33.30,213.84) scale(1.0,1.0)" font-family="Liberation Serif" font-size="10.7" text-anchor="end" fill="#262626">2.5</text>
<line x1="36.5" y1="184.65" x2="39.0" y2="184.65" stroke="#333333" stroke-width="1"/>
<line x1="227.0" y1="184.65" x2="224.5" y2="184.65" stroke="#333333" stroke-width="1"/>
<text transform="translate(33.30,188.25) scale(1.0,1.0)" font-family="Liberation Serif" font-size="10.7" text-anchor="end" fill="#262626">3</text>
<line x1="36.5" y1="159.06" x2="39.0" y2="159.06" stroke="#333333" stroke-width="1"/>
<line x1="227.0" y1="159.06" x2="224.5" y2="159.06" stroke="#333333" stroke-width="1"/>
<text transform="translate(33.30,162.66) scale(1.0,1.0)" font-family="Liberation Serif" font-size="10.7" text-anchor="end" fill="#262626">3.5</text>
<text transform="translate(131.70,365.00) scale(1.0,1.0)" font-family="Liberation Serif" font-size="12.1" text-anchor="middle" fill="#262626">GC-PID (ppbv)</text>
<text transform="translate(15.50,240.00) scale(1,1.0) rotate(-90)" font-family="Liberation Serif" font-size="12.6" text-anchor="middle" fill="#262626">CIMS (ppbv)</text>
<text transform="translate(4.80,148.40) scale(1.0,1.0)" font-family="Liberation Sans" font-size="10.6" text-anchor="start" fill="#262626" font-weight="bold">(b)</text>
<rect x="124.7" y="146.9" width="52.8" height="38.6" fill="#fff" stroke="#333333" stroke-width="1"/>
<circle cx="131.7" cy="154" r="1.3" fill="#1a1a40"/>
<text transform="translate(140.30,158.00) scale(1.0,1.07)" font-family="Liberation Serif" font-size="10.7" text-anchor="start" fill="#1a1a1a">Data</text>
<line x1="126" y1="166.6" x2="139" y2="166.6" stroke="#000" stroke-width="1.4"/>
<text transform="translate(139.50,170.60) scale(1.0,1.07)" font-family="Liberation Serif" font-size="10.7" text-anchor="start" fill="#1a1a1a">Fit</text>
<line x1="126" y1="178.4" x2="139" y2="178.4" stroke="#000" stroke-width="1.4" stroke-dasharray="4.8,5.6"/>
<text transform="translate(140.60,182.60) scale(1.0,1.07)" font-family="Liberation Serif" font-size="10.6" text-anchor="start" fill="#1a1a1a">1:1 Line</text>
<rect x="127.3" y="282.1" width="94.2" height="50.6" fill="#fff" stroke="#333333" stroke-width="1"/>
<text transform="translate(130.80,293.60) scale(1.0,1.08)" font-family="Liberation Sans" font-size="10.85" text-anchor="start" fill="#000">Slope = 4.78</text>
<text transform="translate(130.80,309.90) scale(1.0,1.08)" font-family="Liberation Sans" font-size="10.85" text-anchor="start" fill="#000">Intercept = -0.90</text>
<text transform="translate(130.8,325.8) scale(1,1.08)" font-family="Liberation Sans" font-size="10.85" fill="#000">R<tspan dy="-4.6" font-size="8">2</tspan><tspan dy="4.6"> = 0.34</tspan></text>
<circle cx="165.7" cy="297.1" r="1.85" fill="#fb8122" stroke="#703a0f" stroke-width="0.45"/>
<circle cx="167.0" cy="310.2" r="1.85" fill="#fcb336" stroke="#715018" stroke-width="0.45"/>
<circle cx="167.8" cy="329.8" r="1.85" fill="#477bf2" stroke="#1f376c" stroke-width="0.45"/>
<circle cx="127.6" cy="301.6" r="1.85" fill="#f56918" stroke="#6e2f0a" stroke-width="0.45"/>
<defs><linearGradient id="turbo" x1="0" y1="1" x2="0" y2="0"><stop offset="0.0000" stop-color="#30123b"/><stop offset="0.0156" stop-color="#351e58"/><stop offset="0.0312" stop-color="#392a73"/><stop offset="0.0469" stop-color="#3d358b"/><stop offset="0.0625" stop-color="#4040a2"/><stop offset="0.0781" stop-color="#424bb5"/><stop offset="0.0938" stop-color="#4456c7"/><stop offset="0.1094" stop-color="#4661d6"/><stop offset="0.1250" stop-color="#466be3"/><stop offset="0.1406" stop-color="#4776ee"/><stop offset="0.1562" stop-color="#4680f6"/><stop offset="0.1719" stop-color="#458afc"/><stop offset="0.1875" stop-color="#4294ff"/><stop offset="0.2031" stop-color="#3d9efe"/><stop offset="0.2188" stop-color="#37a8fa"/><stop offset="0.2344" stop-color="#2fb2f4"/><stop offset="0.2500" stop-color="#28bceb"/><stop offset="0.2656" stop-color="#22c5e2"/><stop offset="0.2812" stop-color="#1ccdd8"/><stop offset="0.2969" stop-color="#19d5cd"/><stop offset="0.3125" stop-color="#18ddc2"/><stop offset="0.3281" stop-color="#19e3b9"/><stop offset="0.3438" stop-color="#1fe9af"/><stop offset="0.3594" stop-color="#27eea4"/><stop offset="0.3750" stop-color="#32f298"/><stop offset="0.3906" stop-color="#3ff68a"/><stop offset="0.4062" stop-color="#4ef97d"/><stop offset="0.4219" stop-color="#5dfc6f"/><stop offset="0.4375" stop-color="#6dfe62"/><stop offset="0.4531" stop-color="#7dff56"/><stop offset="0.4688" stop-color="#8bff4b"/><stop offset="0.4844" stop-color="#99fe42"/><stop offset="0.5000" stop-color="#a4fc3c"/><stop offset="0.5156" stop-color="#acfb38"/><stop offset="0.5312" stop-color="#b7f735"/><stop offset="0.5469" stop-color="#c1f334"/><stop offset="0.5625" stop-color="#cbed34"/><stop offset="0.5781" stop-color="#d4e735"/><stop offset="0.5938" stop-color="#dde037"/><stop offset="0.6094" stop-color="#e5d938"/><stop offset="0.6250" stop-color="#ecd13a"/><stop offset="0.6406" stop-color="#f2c93a"/><stop offset="0.6562" stop-color="#f7c13a"/><stop offset="0.6719" stop-color="#fbb838"/><stop offset="0.6875" stop-color="#fdae35"/><stop offset="0.7031" stop-color="#fea431"/><stop offset="0.7188" stop-color="#fe992c"/><stop offset="0.7344" stop-color="#fd8d27"/><stop offset="0.7500" stop-color="#fb8122"/><stop offset="0.7656" stop-color="#f9751d"/><stop offset="0.7812" stop-color="#f56918"/><stop offset="0.7969" stop-color="#f15d13"/><stop offset="0.8125" stop-color="#ec530f"/><stop offset="0.8281" stop-color="#e7490c"/><stop offset="0.8438" stop-color="#e14109"/><stop offset="0.8594" stop-color="#da3907"/><stop offset="0.8750" stop-color="#d23105"/><stop offset="0.8906" stop-color="#ca2a04"/><stop offset="0.9062" stop-color="#c12302"/><stop offset="0.9219" stop-color="#b71d02"/><stop offset="0.9375" stop-color="#ac1701"/><stop offset="0.9531" stop-color="#a11201"/><stop offset="0.9688" stop-color="#950d01"/><stop offset="0.9844" stop-color="#880802"/><stop offset="1.0000" stop-color="#7a0403"/></linearGradient></defs>
<rect x="230.2" y="144.0" width="7.200000000000017" height="194.2" fill="url(#turbo)" stroke="#333333" stroke-width="0.6"/>
<line x1="237.4" y1="328.31" x2="235.9" y2="328.31" stroke="#333333" stroke-width="0.5"/>
<text transform="translate(240.40,331.81) scale(1.0,1.0)" font-family="Liberation Serif" font-size="10.3" text-anchor="start" fill="#262626">8</text>
<line x1="237.4" y1="307.72" x2="235.9" y2="307.72" stroke="#333333" stroke-width="0.5"/>
<text transform="translate(240.40,311.22) scale(1.0,1.0)" font-family="Liberation Serif" font-size="10.3" text-anchor="start" fill="#262626">8.2</text>
<line x1="237.4" y1="287.13" x2="235.9" y2="287.13" stroke="#333333" stroke-width="0.5"/>
<text transform="translate(240.40,290.63) scale(1.0,1.0)" font-family="Liberation Serif" font-size="10.3" text-anchor="start" fill="#262626">8.4</text>
<line x1="237.4" y1="266.53" x2="235.9" y2="266.53" stroke="#333333" stroke-width="0.5"/>
<text transform="translate(240.40,270.03) scale(1.0,1.0)" font-family="Liberation Serif" font-size="10.3" text-anchor="start" fill="#262626">8.6</text>
<line x1="237.4" y1="245.94" x2="235.9" y2="245.94" stroke="#333333" stroke-width="0.5"/>
<text transform="translate(240.40,249.44) scale(1.0,1.0)" font-family="Liberation Serif" font-size="10.3" text-anchor="start" fill="#262626">8.8</text>
<line x1="237.4" y1="225.35" x2="235.9" y2="225.35" stroke="#333333" stroke-width="0.5"/>
<text transform="translate(240.40,228.85) scale(1.0,1.0)" font-family="Liberation Serif" font-size="10.3" text-anchor="start" fill="#262626">9</text>
<line x1="237.4" y1="204.75" x2="235.9" y2="204.75" stroke="#333333" stroke-width="0.5"/>
<text transform="translate(240.40,208.25) scale(1.0,1.0)" font-family="Liberation Serif" font-size="10.3" text-anchor="start" fill="#262626">9.2</text>
<line x1="237.4" y1="184.16" x2="235.9" y2="184.16" stroke="#333333" stroke-width="0.5"/>
<text transform="translate(240.40,187.66) scale(1.0,1.0)" font-family="Liberation Serif" font-size="10.3" text-anchor="start" fill="#262626">9.4</text>
<line x1="237.4" y1="163.56" x2="235.9" y2="163.56" stroke="#333333" stroke-width="0.5"/>
<text transform="translate(240.40,167.06) scale(1.0,1.0)" font-family="Liberation Serif" font-size="10.3" text-anchor="start" fill="#262626">9.6</text>
<text transform="translate(265.8,241.0) scale(1,1.0) rotate(-90)" font-family="Liberation Serif" font-size="10.3" text-anchor="middle" fill="#262626">Ln[H<tspan font-size="7" dy="2">9</tspan><tspan dy="-2">O</tspan><tspan font-size="7" dy="2">4</tspan><tspan font-size="7" dy="-5.5" dx="-3.5">+</tspan><tspan dy="3.5"> (ncps)]</tspan></text>
<polygon points="302.4,223.2 310.3,220.6 318.1,220.6 325.9,263.8 333.8,258.5 341.6,199.2 349.5,236.5 357.3,213.9 365.1,175.9 373.0,163.3 380.8,173.3 388.7,266.5 396.5,232.5 404.3,197.2 412.2,271.8 420.0,256.5 427.9,279.8 435.7,275.2 443.5,286.5 451.4,256.5 459.2,305.8 467.1,271.2 474.9,211.9 482.7,241.2 482.7,323.1 474.9,326.5 467.1,328.4 459.2,329.8 451.4,325.8 443.5,326.5 435.7,327.1 427.9,327.1 420.0,328.4 412.2,323.1 404.3,329.8 396.5,326.5 388.7,308.5 380.8,289.8 373.0,264.5 365.1,309.8 357.3,319.8 349.5,323.1 341.6,319.8 333.8,326.5 325.9,328.4 318.1,322.5 310.3,327.1 302.4,329.1" fill="#0000ff" fill-opacity="0.12" stroke="none"/>
<polygon points="302.4,315.1 310.3,319.1 318.1,308.5 325.9,321.8 333.8,315.8 341.6,305.8 349.5,313.8 357.3,317.8 365.1,312.5 373.0,299.1 380.8,303.1 388.7,309.8 396.5,277.8 404.3,277.8 412.2,229.9 420.0,229.9 427.9,253.9 435.7,293.2 443.5,296.5 451.4,297.8 459.2,309.8 467.1,303.8 474.9,296.5 482.7,309.8 482.7,323.1 474.9,333.8 467.1,331.1 459.2,335.1 451.4,337.1 443.5,327.1 435.7,333.8 427.9,334.7 420.0,337.8 412.2,335.1 404.3,329.8 396.5,329.8 388.7,326.5 380.8,324.5 373.0,321.8 365.1,327.1 357.3,329.8 349.5,331.8 341.6,325.8 333.8,331.8 325.9,333.1 318.1,336.4 310.3,335.1 302.4,335.1" fill="#ff0000" fill-opacity="0.12" stroke="none"/>
<polyline points="302.4,325.1 310.3,323.1 318.1,331.1 325.9,328.4 333.8,331.8 341.6,319.8 349.5,325.8 357.3,329.1 365.1,321.8 373.0,312.5 380.8,313.1 388.7,315.8 396.5,312.1 404.3,319.8 412.2,317.1 420.0,328.4 427.9,324.5 435.7,321.1 443.5,323.5 451.4,306.8 459.2,325.4 467.1,321.1 474.9,323.1 482.7,317.1" fill="none" stroke="#ff0000" stroke-width="0.95"/>
<polyline points="302.4,299.8 310.3,277.5 318.1,321.1 325.9,307.1 333.8,300.0 341.6,286.5 349.5,286.5 357.3,318.9 365.1,306.8 373.0,173.3 380.8,237.9 388.7,272.5 396.5,309.8 404.3,319.8 412.2,285.8 420.0,317.8 427.9,319.1 435.7,310.5 443.5,305.4 451.4,301.4 459.2,318.5 467.1,323.1 474.9,299.8 482.7,292.2" fill="none" stroke="#0000ff" stroke-width="0.95"/>
<rect x="298.5" y="143.3" width="196.0" height="199.8" fill="none" stroke="#333333" stroke-width="1"/>
<line x1="298.50" y1="343.1" x2="298.50" y2="340.6" stroke="#333333" stroke-width="1"/>
<line x1="298.50" y1="143.3" x2="298.50" y2="145.8" stroke="#333333" stroke-width="1"/>
<text transform="translate(298.50,355.90) scale(1.0,1.0)" font-family="Liberation Serif" font-size="10" text-anchor="middle" fill="#262626">0</text>
<line x1="322.02" y1="343.1" x2="322.02" y2="340.6" stroke="#333333" stroke-width="1"/>
<line x1="322.02" y1="143.3" x2="322.02" y2="145.8" stroke="#333333" stroke-width="1"/>
<text transform="translate(322.02,355.90) scale(1.0,1.0)" font-family="Liberation Serif" font-size="10" text-anchor="middle" fill="#262626">3</text>
<line x1="345.54" y1="343.1" x2="345.54" y2="340.6" stroke="#333333" stroke-width="1"/>
<line x1="345.54" y1="143.3" x2="345.54" y2="145.8" stroke="#333333" stroke-width="1"/>
<text transform="translate(345.54,355.90) scale(1.0,1.0)" font-family="Liberation Serif" font-size="10" text-anchor="middle" fill="#262626">6</text>
<line x1="369.06" y1="343.1" x2="369.06" y2="340.6" stroke="#333333" stroke-width="1"/>
<line x1="369.06" y1="143.3" x2="369.06" y2="145.8" stroke="#333333" stroke-width="1"/>
<text transform="translate(369.06,355.90) scale(1.0,1.0)" font-family="Liberation Serif" font-size="10" text-anchor="middle" fill="#262626">9</text>
<line x1="392.58" y1="343.1" x2="392.58" y2="340.6" stroke="#333333" stroke-width="1"/>
<line x1="392.58" y1="143.3" x2="392.58" y2="145.8" stroke="#333333" stroke-width="1"/>
<text transform="translate(392.58,355.90) scale(1.0,1.0)" font-family="Liberation Serif" font-size="10" text-anchor="middle" fill="#262626">12</text>
<line x1="416.10" y1="343.1" x2="416.10" y2="340.6" stroke="#333333" stroke-width="1"/>
<line x1="416.10" y1="143.3" x2="416.10" y2="145.8" stroke="#333333" stroke-width="1"/>
<text transform="translate(416.10,355.90) scale(1.0,1.0)" font-family="Liberation Serif" font-size="10" text-anchor="middle" fill="#262626">15</text>
<line x1="439.62" y1="343.1" x2="439.62" y2="340.6" stroke="#333333" stroke-width="1"/>
<line x1="439.62" y1="143.3" x2="439.62" y2="145.8" stroke="#333333" stroke-width="1"/>
<text transform="translate(439.62,355.90) scale(1.0,1.0)" font-family="Liberation Serif" font-size="10" text-anchor="middle" fill="#262626">18</text>
<line x1="463.14" y1="343.1" x2="463.14" y2="340.6" stroke="#333333" stroke-width="1"/>
<line x1="463.14" y1="143.3" x2="463.14" y2="145.8" stroke="#333333" stroke-width="1"/>
<text transform="translate(463.14,355.90) scale(1.0,1.0)" font-family="Liberation Serif" font-size="10" text-anchor="middle" fill="#262626">21</text>
<line x1="486.66" y1="343.1" x2="486.66" y2="340.6" stroke="#333333" stroke-width="1"/>
<line x1="486.66" y1="143.3" x2="486.66" y2="145.8" stroke="#333333" stroke-width="1"/>
<text transform="translate(486.66,355.90) scale(1.0,1.0)" font-family="Liberation Serif" font-size="10" text-anchor="middle" fill="#262626">24</text>
<line x1="298.5" y1="343.10" x2="301.0" y2="343.10" stroke="#333333" stroke-width="1"/>
<line x1="494.5" y1="343.10" x2="492.0" y2="343.10" stroke="#333333" stroke-width="1"/>
<text transform="translate(295.50,346.60) scale(1.0,1.0)" font-family="Liberation Serif" font-size="10" text-anchor="end" fill="#262626">0</text>
<line x1="298.5" y1="309.80" x2="301.0" y2="309.80" stroke="#333333" stroke-width="1"/>
<line x1="494.5" y1="309.80" x2="492.0" y2="309.80" stroke="#333333" stroke-width="1"/>
<text transform="translate(295.50,313.30) scale(1.0,1.0)" font-family="Liberation Serif" font-size="10" text-anchor="end" fill="#262626">0.5</text>
<line x1="298.5" y1="276.50" x2="301.0" y2="276.50" stroke="#333333" stroke-width="1"/>
<line x1="494.5" y1="276.50" x2="492.0" y2="276.50" stroke="#333333" stroke-width="1"/>
<text transform="translate(295.50,280.00) scale(1.0,1.0)" font-family="Liberation Serif" font-size="10" text-anchor="end" fill="#262626">1</text>
<line x1="298.5" y1="243.20" x2="301.0" y2="243.20" stroke="#333333" stroke-width="1"/>
<line x1="494.5" y1="243.20" x2="492.0" y2="243.20" stroke="#333333" stroke-width="1"/>
<text transform="translate(295.50,246.70) scale(1.0,1.0)" font-family="Liberation Serif" font-size="10" text-anchor="end" fill="#262626">1.5</text>
<line x1="298.5" y1="209.90" x2="301.0" y2="209.90" stroke="#333333" stroke-width="1"/>
<line x1="494.5" y1="209.90" x2="492.0" y2="209.90" stroke="#333333" stroke-width="1"/>
<text transform="translate(295.50,213.40) scale(1.0,1.0)" font-family="Liberation Serif" font-size="10" text-anchor="end" fill="#262626">2</text>
<line x1="298.5" y1="176.60" x2="301.0" y2="176.60" stroke="#333333" stroke-width="1"/>
<line x1="494.5" y1="176.60" x2="492.0" y2="176.60" stroke="#333333" stroke-width="1"/>
<text transform="translate(295.50,180.10) scale(1.0,1.0)" font-family="Liberation Serif" font-size="10" text-anchor="end" fill="#262626">2.5</text>
<line x1="298.5" y1="143.30" x2="301.0" y2="143.30" stroke="#333333" stroke-width="1"/>
<line x1="494.5" y1="143.30" x2="492.0" y2="143.30" stroke="#333333" stroke-width="1"/>
<text transform="translate(295.50,146.80) scale(1.0,1.0)" font-family="Liberation Serif" font-size="10" text-anchor="end" fill="#262626">3</text>
<text transform="translate(396.50,367.80) scale(1.0,1.0)" font-family="Liberation Serif" font-size="10" text-anchor="middle" fill="#262626">local time</text>
<text transform="translate(279.60,242.60) scale(1,1.04) rotate(-90)" font-family="Liberation Serif" font-size="10.2" text-anchor="middle" fill="#262626">Isoprene (ppbv)</text>
<text transform="translate(269.60,147.90) scale(0.92,1.0)" font-family="Liberation Sans" font-size="10.6" text-anchor="start" fill="#262626" font-weight="bold">(c)</text>
<rect x="441.5" y="147" width="49.5" height="24.5" fill="#fff" stroke="#333333" stroke-width="1"/>
<line x1="443" y1="152.5" x2="455" y2="152.5" stroke="#ff3030" stroke-width="1"/>
<line x1="443" y1="164.5" x2="455" y2="164.5" stroke="#5050ff" stroke-width="1"/>
<text transform="translate(456.00,156.80) scale(1.0,1.07)" font-family="Liberation Serif" font-size="10" text-anchor="start" fill="#1a1a1a">GC-PID</text>
<text transform="translate(456.00,168.80) scale(1.0,1.07)" font-family="Liberation Serif" font-size="10" text-anchor="start" fill="#1a1a1a">CIMS</text>
</svg></body></html>
